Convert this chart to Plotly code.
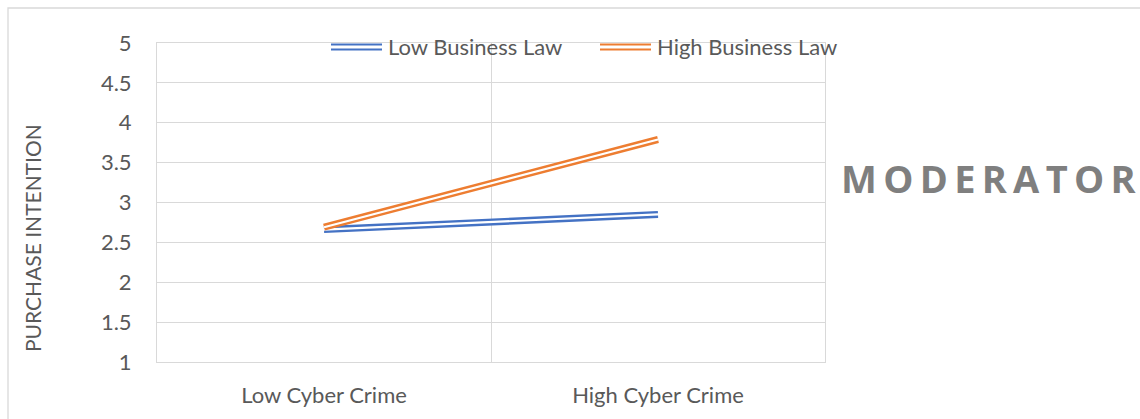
import plotly.graph_objects as go

categories = ["Low Cyber Crime", "High Cyber Crime"]
low_business_law = [2.66, 2.85]
high_business_law = [2.69, 3.79]
series_names = ["Low Business Law", "High Business Law"]
y_ticks = [1, 1.5, 2, 2.5, 3, 3.5, 4, 4.5, 5]
y_tick_labels = ["1", "1.5", "2", "2.5", "3", "3.5", "4", "4.5", "5"]

BLUE = "#4472C4"
ORANGE = "#ED7D31"
TXT = "#595959"
GRID = "#D9D9D9"
FONT = "Lato"

xs = list(range(len(categories)))
fig = go.Figure()
for vals, col, name in [(low_business_law, BLUE, series_names[0]),
                        (high_business_law, ORANGE, series_names[1])]:
    fig.add_trace(go.Scatter(x=xs, y=vals, mode="lines", name=name,
                             line=dict(color=col, width=7), showlegend=False,
                             hoverinfo="skip"))
    fig.add_trace(go.Scatter(x=xs, y=vals, mode="lines", name=name,
                             line=dict(color="white", width=2.2), showlegend=False,
                             hoverinfo="skip"))

W, H = 1140, 419
L, R, T, B = 157, 315, 43, 57
pw, ph = W - L - R, H - T - B

def px(xp):
    return (xp - L) / pw

def py(yp):
    return (H - B - yp) / ph

shapes = []
shapes.append(dict(type="rect", xref="paper", yref="paper",
                   x0=px(8), x1=px(1150), y0=py(8), y1=py(430),
                   line=dict(color=GRID, width=1.3), layer="below"))
annotations = []
for (x0, x1, xt, col, name) in [(331, 382, 386, BLUE, series_names[0]),
                                (600, 651, 655, ORANGE, series_names[1])]:
    for yy in (44.5, 49.5):
        shapes.append(dict(type="line", xref="paper", yref="paper",
                           x0=px(x0), x1=px(x1), y0=py(yy), y1=py(yy),
                           line=dict(color=col, width=2.2)))
    annotations.append(dict(xref="paper", yref="paper", x=px(xt), y=py(47),
                            text=name, showarrow=False, xanchor="left",
                            yanchor="middle", font=dict(family=FONT, size=22, color=TXT)))

annotations.append(dict(xref="paper", yref="paper", x=px(32), y=py(238),
                        text="PURCHASE INTENTION", textangle=-90, showarrow=False,
                        xanchor="center", yanchor="middle",
                        font=dict(family=FONT, size=21, color=TXT)))
annotations.append(dict(xref="paper", yref="paper", x=px(989), y=py(178),
                        text="<b>M O D E R A T O R</b>".replace(" ", "\u2009"), showarrow=False,
                        xanchor="center", yanchor="middle",
                        font=dict(family="Open Sans", size=38, color="#7F7F7F")))

fig.update_layout(
    width=W, height=H,
    margin=dict(l=L, r=R, t=T, b=B, autoexpand=False),
    paper_bgcolor="white", plot_bgcolor="white",
    shapes=shapes, annotations=annotations,
    showlegend=False,
    xaxis=dict(range=[-0.5, 1.5], tickmode="array", tickvals=xs, ticktext=categories,
               showgrid=False, zeroline=False, showline=True, linecolor=GRID,
               linewidth=1, mirror=True, ticks="",
               ticklabelstandoff=14,
               tickfont=dict(family=FONT, size=22, color=TXT),
               minor=dict(tickmode="array", tickvals=[0.5], showgrid=True,
                          gridcolor=GRID, gridwidth=1, ticks="")),
    yaxis=dict(range=[1, 5], tickmode="array", tickvals=y_ticks, ticktext=y_tick_labels,
               showgrid=True, gridcolor=GRID, gridwidth=1, zeroline=False,
               showline=True, linecolor=GRID, linewidth=1, mirror=True,
               ticks="", ticklabelstandoff=20,
               tickfont=dict(family=FONT, size=22, color=TXT)),
)

fig.write_html("out.html")
